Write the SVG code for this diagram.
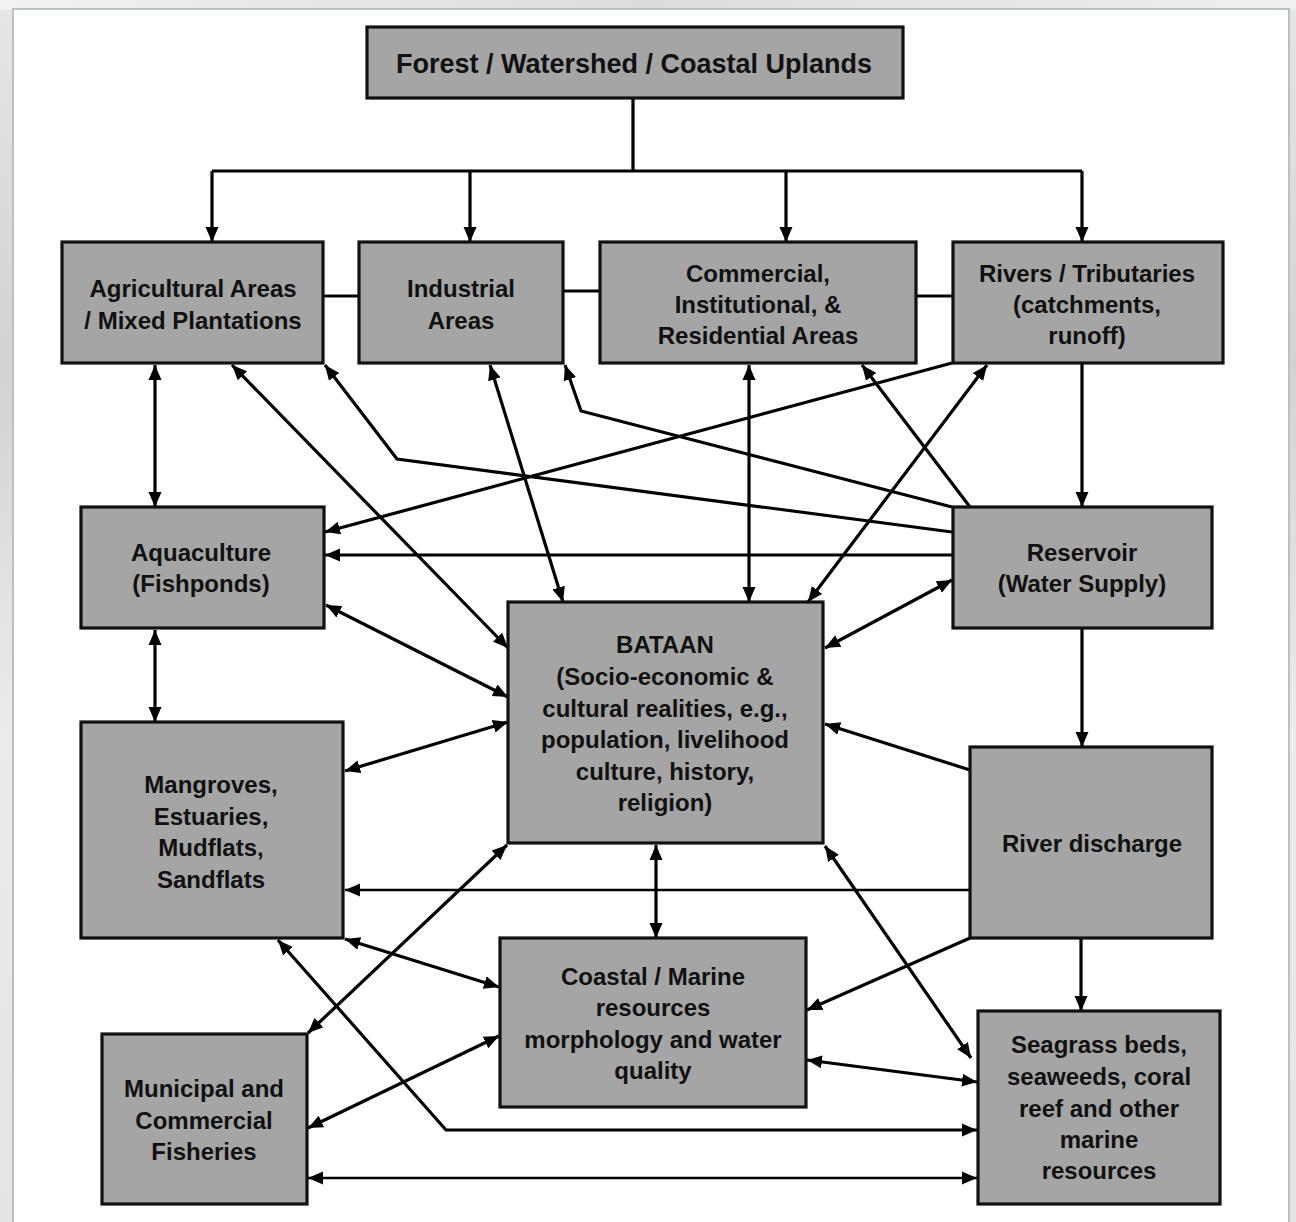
<svg xmlns="http://www.w3.org/2000/svg" width="1296" height="1222" viewBox="0 0 1296 1222">
<style>
.box{fill:#a5a5a5;stroke:#111;stroke-width:3.2}
.t{font-family:"Liberation Sans",Arial,sans-serif;font-weight:bold;font-size:24px;fill:#111;text-anchor:middle}
.c{fill:none;stroke:#000;stroke-width:3.2}
.a{marker-end:url(#ah)}
.d{marker-start:url(#ah);marker-end:url(#ah)}
</style>
<defs>
<marker id="ah" markerUnits="userSpaceOnUse" markerWidth="16" markerHeight="14" refX="15" refY="7" orient="auto-start-reverse">
<path d="M0,0.5 L15,7 L0,13.5 z" fill="#000"/>
</marker>
<linearGradient id="bgt" x1="0" y1="0" x2="1" y2="0">
<stop offset="0" stop-color="#f2f2f2"/>
<stop offset="0.5" stop-color="#dcdcdc"/>
<stop offset="1" stop-color="#f0f0f0"/>
</linearGradient>
<linearGradient id="bgl" x1="0" y1="0" x2="0" y2="1">
<stop offset="0" stop-color="#e6e6e6"/>
<stop offset="0.3" stop-color="#d2d2d2"/>
<stop offset="0.6" stop-color="#ececec"/>
<stop offset="1" stop-color="#e4e4e4"/>
</linearGradient>
</defs>
<rect x="0" y="0" width="1296" height="1222" fill="url(#bgl)"/>
<rect x="0" y="0" width="1296" height="10" fill="url(#bgt)"/>
<rect x="13" y="9" width="1276" height="1220" fill="#fff" stroke="#b8c0c8" stroke-width="2"/>

<g id="connectors">
<path class="c" d="M633,98 V171 M212,171 H1082"/>
<path class="c a" d="M212,171 V242"/>
<path class="c a" d="M470,171 V242"/>
<path class="c a" d="M786,171 V242"/>
<path class="c a" d="M1082,171 V242"/>
<path class="c" d="M323,296 H359 M563,291 H600 M916,296 H953"/>
<path class="c d" d="M155,365 V507"/>
<path class="c d" d="M155,630 V722"/>
<path class="c d" d="M232,365 L508,648"/>
<path class="c a" d="M952,532 L397,459 L325,365"/>
<path class="c a" d="M952,507 L581,411 L565,365"/>
<path class="c d" d="M490,365 L563,602"/>
<path class="c d" d="M749,365 V602"/>
<path class="c a" d="M970,507 L862,365"/>
<path class="c a" d="M952,363 L325,532"/>
<path class="c d" d="M987,365 L808,602"/>
<path class="c a" d="M1082,363 V507"/>
<path class="c a" d="M953,555 H325"/>
<path class="c d" d="M326,605 L508,697"/>
<path class="c d" d="M952,580 L825,648"/>
<path class="c a" d="M1082,628 V747"/>
<path class="c d" d="M345,771 L508,722"/>
<path class="c a" d="M970,770 L825,724"/>
<path class="c a" style="stroke-width:2.6" d="M970,890 H345"/>
<path class="c d" d="M656,845 V938"/>
<path class="c d" d="M507,845 L308,1033"/>
<path class="c d" d="M825,846 L971,1058"/>
<path class="c d" d="M345,939 L499,987"/>
<path class="c a" d="M970,938 L807,1010"/>
<path class="c a" d="M1081,938 V1011"/>
<path class="c d" d="M499,1036 L308,1128"/>
<path class="c d" d="M807,1060 L977,1082"/>
<path class="c d" d="M278,940 L446,1130 L977,1130"/>
<path class="c d" style="stroke-width:2.6" d="M308,1178 H977"/>
</g>

<g id="forest">
<rect class="box" x="367" y="27" width="536" height="71"/>
<text class="t" x="634" y="73" style="font-size:27px">Forest / Watershed / Coastal Uplands</text>
</g>
<g id="agri">
<rect class="box" x="62" y="242" width="261" height="121"/>
<text class="t" x="193" y="297">Agricultural Areas</text>
<text class="t" x="193" y="329">/ Mixed Plantations</text>
</g>
<g id="industrial">
<rect class="box" x="359" y="242" width="204" height="121"/>
<text class="t" x="461" y="297">Industrial</text>
<text class="t" x="461" y="329">Areas</text>
</g>
<g id="commercial">
<rect class="box" x="600" y="242" width="316" height="121"/>
<text class="t" x="758" y="282">Commercial,</text>
<text class="t" x="758" y="313">Institutional, &amp;</text>
<text class="t" x="758" y="344">Residential Areas</text>
</g>
<g id="rivers">
<rect class="box" x="953" y="242" width="270" height="121"/>
<text class="t" x="1087" y="282">Rivers / Tributaries</text>
<text class="t" x="1087" y="313">(catchments,</text>
<text class="t" x="1087" y="344">runoff)</text>
</g>
<g id="aquaculture">
<rect class="box" x="81" y="507" width="243" height="121"/>
<text class="t" x="201" y="561">Aquaculture</text>
<text class="t" x="201" y="592">(Fishponds)</text>
</g>
<g id="reservoir">
<rect class="box" x="953" y="507" width="259" height="121"/>
<text class="t" x="1082" y="561">Reservoir</text>
<text class="t" x="1082" y="592">(Water Supply)</text>
</g>
<g id="bataan">
<rect class="box" x="508" y="602" width="315" height="241"/>
<text class="t" x="665" y="653">BATAAN</text>
<text class="t" x="665" y="685">(Socio-economic &amp;</text>
<text class="t" x="665" y="717">cultural realities, e.g.,</text>
<text class="t" x="665" y="748">population, livelihood</text>
<text class="t" x="665" y="780">culture, history,</text>
<text class="t" x="665" y="811">religion)</text>
</g>
<g id="mangroves">
<rect class="box" x="81" y="722" width="262" height="216"/>
<text class="t" x="211" y="793">Mangroves,</text>
<text class="t" x="211" y="825">Estuaries,</text>
<text class="t" x="211" y="856">Mudflats,</text>
<text class="t" x="211" y="888">Sandflats</text>
</g>
<g id="riverdischarge">
<rect class="box" x="970" y="747" width="242" height="191"/>
<text class="t" x="1092" y="852">River discharge</text>
</g>
<g id="coastal">
<rect class="box" x="500" y="938" width="306" height="169"/>
<text class="t" x="653" y="985">Coastal / Marine</text>
<text class="t" x="653" y="1016">resources</text>
<text class="t" x="653" y="1048">morphology and water</text>
<text class="t" x="653" y="1079">quality</text>
</g>
<g id="municipal">
<rect class="box" x="102" y="1034" width="205" height="170"/>
<text class="t" x="204" y="1097">Municipal and</text>
<text class="t" x="204" y="1129">Commercial</text>
<text class="t" x="204" y="1160">Fisheries</text>
</g>
<g id="seagrass">
<rect class="box" x="978" y="1011" width="242" height="193"/>
<text class="t" x="1099" y="1053">Seagrass beds,</text>
<text class="t" x="1099" y="1085">seaweeds, coral</text>
<text class="t" x="1099" y="1117">reef and other</text>
<text class="t" x="1099" y="1148">marine</text>
<text class="t" x="1099" y="1179">resources</text>
</g>
</svg>
